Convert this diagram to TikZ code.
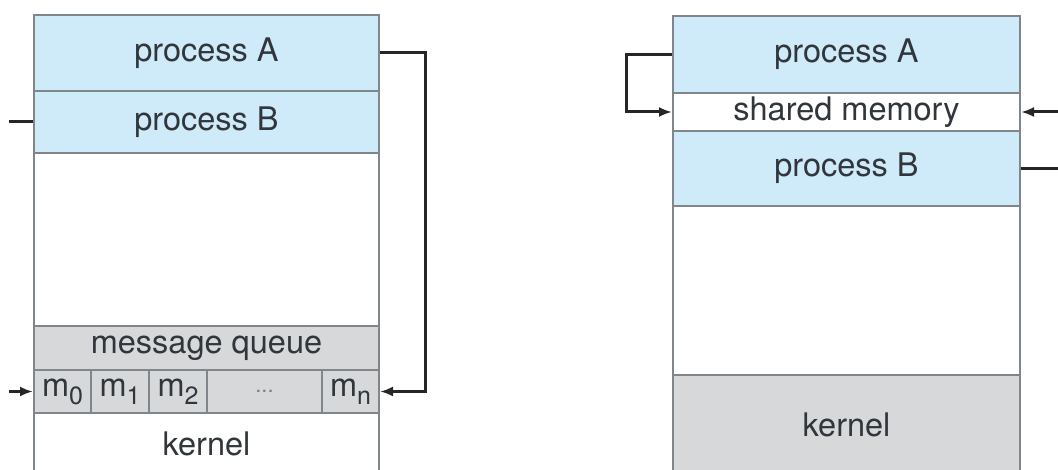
\documentclass[tikz,border=0pt]{standalone}
\usepackage{fontspec}
\setmainfont{TeX Gyre Heros}
\usetikzlibrary{arrows.meta}
\definecolor{pblue}{HTML}{CFEAF8}
\definecolor{kgray}{HTML}{D6D8DA}
\definecolor{bord}{HTML}{7F868C}
\definecolor{txt}{HTML}{30363C}
\definecolor{conncol}{HTML}{262626}
\newcommand\msub[1]{m\raisebox{-0.25em}{\fontsize{25}{25}\selectfont #1}}
\begin{document}
\begin{tikzpicture}[x=1pt,y=-1pt,
  cell/.style={draw=bord, line width=2pt, anchor=north west, inner sep=0pt, text=txt, font=\fontsize{32.5}{36}\selectfont},
  conn/.style={draw=conncol, line width=3pt},
  arr/.style={conn, -{Latex[length=13pt,width=10pt]}}]
\useasboundingbox (0,0) rectangle (1058,470);
\fill[white] (0,0) rectangle (1058,470);
\clip (0,0) rectangle (1058,470);
% left: message passing
\node[cell, fill=pblue, minimum width=345pt, minimum height=76pt] (lA) at (33,14) {process A};
\node[cell, fill=pblue, minimum width=345pt, minimum height=62pt] (lB) at (33,90) {process B};
\node[cell, fill=white, minimum width=345pt, minimum height=173pt] (lE) at (33,152) {};
\node[cell, fill=kgray, minimum width=345pt, minimum height=44pt] (lQ) at (33,325) {message queue};
\node[cell, fill=kgray, minimum width=57pt, minimum height=43pt] (m0) at (33,369) {\msub{0}};
\node[cell, fill=kgray, minimum width=58pt, minimum height=43pt] (m1) at (90,369) {\msub{1}};
\node[cell, fill=kgray, minimum width=58pt, minimum height=43pt] (m2) at (148,369) {\msub{2}};
\node[cell, fill=kgray, minimum width=115pt, minimum height=43pt, text=gray, font=\fontsize{22}{22}\selectfont] (md) at (206,369) {...};
\node[cell, fill=kgray, minimum width=57pt, minimum height=43pt] (mn) at (321,369) {\msub{n}};
\node[cell, fill=white, minimum width=345pt, minimum height=62pt] (lK) at (33,412) {kernel};
\draw[arr] (lA.east) -- ++(45,0) |- (mn.east);
\coordinate (lBfree) at ([xshift=-24pt]lB.west);
\draw[conn] (lB.west) -- (lBfree);
\coordinate (lIn) at ([xshift=-24pt]m0.west);
\draw[arr] (lIn) -- (m0.west);
% right: shared memory
\node[cell, fill=pblue, minimum width=347pt, minimum height=77pt] (rA) at (672,15) {process A};
\node[cell, fill=white, minimum width=347pt, minimum height=38pt] (rS) at (672,92) {shared memory};
\node[cell, fill=pblue, minimum width=347pt, minimum height=75pt] (rB) at (672,130) {process B};
\node[cell, fill=white, minimum width=347pt, minimum height=169pt] (rE) at (672,205) {};
\node[cell, fill=kgray, minimum width=347pt, minimum height=100pt] (rK) at (672,374) {kernel};
\draw[arr] (rA.west) -- ++(-46,0) |- (rS.west);
\coordinate (rIn) at ([xshift=42pt]rS.east);
\draw[arr] (rIn) -- (rS.east);
\coordinate (rOut) at ([xshift=42pt]rB.east);
\draw[conn] (rB.east) -- (rOut);
\end{tikzpicture}
\end{document}
